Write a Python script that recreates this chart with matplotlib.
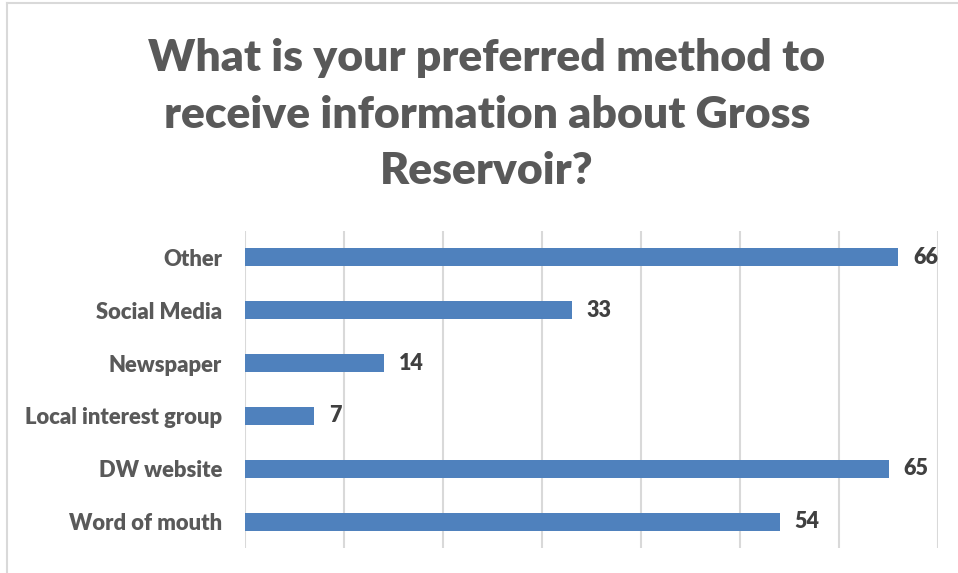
import matplotlib.pyplot as plt
from matplotlib.lines import Line2D

categories = ["Word of mouth", "DW website", "Local interest group",
              "Newspaper", "Social Media", "Other"]
counts = [54, 65, 7, 14, 33, 66]
title = "What is your preferred method to\nreceive information about Gross\nReservoir?"

plt.rcParams['font.family'] = ['Lato', 'DejaVu Sans']

fig = plt.figure(figsize=(9.58, 5.73), dpi=100)
ax = fig.add_axes([245/958, 1 - 548/573, (938 - 245)/958, (548 - 231)/573])

y = range(len(categories))
ax.barh(y, counts, height=0.34, color='#4F81BD', zorder=3)

ax.set_xlim(0, 70)
ax.set_ylim(-0.5, len(categories) - 0.5)
ax.set_xticks(range(0, 71, 10))
ax.xaxis.grid(True, color='#D9D9D9', linewidth=1.5, zorder=0)
ax.tick_params(axis='x', bottom=False, labelbottom=False)
ax.tick_params(axis='y', left=False, pad=13)
ax.set_yticks(list(y))
ax.set_yticklabels(categories, fontsize=15.8, fontweight='heavy', color='#595959')
for s in ax.spines.values():
    s.set_visible(False)

for i, v in zip(y, counts):
    ax.text(v + 1.5, i, str(v), va='center', ha='left', fontsize=15.5,
            fontweight='heavy', color='#404040')

fig.text(487/958, 1 - 115/573, title, ha='center', va='center',
         fontsize=32, fontweight='heavy', color='#595959', linespacing=1.5)

# chart border (clipped at right and bottom)
fig.add_artist(Line2D([7/958, 7/958], [0, 1 - 3/573], color='#D9D9D9', linewidth=1.5))
fig.add_artist(Line2D([7/958, 1], [1 - 3/573, 1 - 3/573], color='#D9D9D9', linewidth=1.5))

fig.savefig('out.png', dpi=100)
